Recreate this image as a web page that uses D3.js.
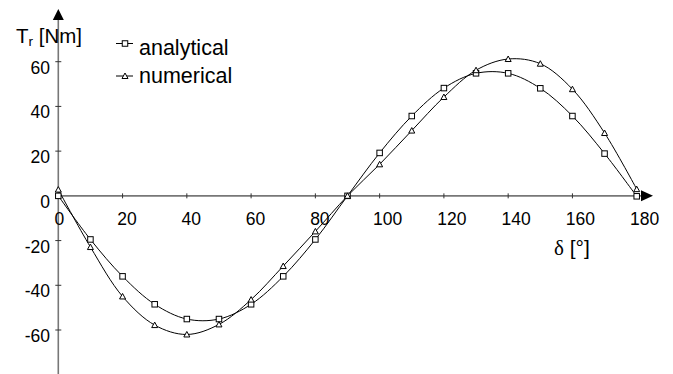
<!DOCTYPE html>
<html>
<head>
<meta charset="utf-8">
<script src="https://cdn.jsdelivr.net/npm/d3@7"></script>
<style>
  body { margin: 0; background: #fff; }
  svg { display: block; font-family: "Liberation Sans", Arial, sans-serif; }
</style>
</head>
<body>
<div id="chart"></div>
<script>
const delta = [0, 10, 20, 30, 40, 50, 60, 70, 80, 90, 100, 110, 120, 130, 140, 150, 160, 170, 180];
const analytical = [0, -19.5, -36, -48.5, -55.1, -55.1, -48.5, -36, -19.5, 0, 19.2, 35.7, 48.2, 54.8, 54.8, 48.1, 35.7, 18.9, -0.2];
const numerical = [2.8, -22.9, -45, -57.8, -62, -57.5, -46.4, -31.4, -15.9, 0, 14.1, 29.2, 44.2, 56.2, 61.2, 59.1, 47.7, 28.1, 3];
const xTicks = [0, 20, 40, 60, 80, 100, 120, 140, 160, 180];
const yTicks = [-60, -40, -20, 0, 20, 40, 60];

const width = 673, height = 374;

const svg = d3.select('#chart').append('svg')
  .attr('width', width)
  .attr('height', height);

const x = d3.scaleLinear().domain([0, 180]).range([58.3, 636.7]);
const y = d3.scaleLinear().domain([-60, 60]).range([330, 61.7]);

const axisColor = '#777';
const x0 = x(0), y0 = y(0);

// axes lines with arrows
svg.append('line')
  .attr('x1', x0).attr('x2', 642)
  .attr('y1', y0).attr('y2', y0)
  .attr('stroke', axisColor).attr('stroke-width', 1.6);
svg.append('path')
  .attr('d', `M641,${y0 - 5.5}L653,${y0}L641,${y0 + 5.5}Z`)
  .attr('fill', '#000');

svg.append('line')
  .attr('x1', x0).attr('x2', x0)
  .attr('y1', height).attr('y2', 19)
  .attr('stroke', axisColor).attr('stroke-width', 1.6);
svg.append('path')
  .attr('d', `M${x0 - 5.5},20L${x0},9L${x0 + 5.5},20Z`)
  .attr('fill', '#000');

// x ticks + labels
const xg = svg.append('g');
xg.selectAll('line')
  .data(xTicks.filter(d => d > 0 && d < 180))
  .enter().append('line')
  .attr('x1', d => x(d)).attr('x2', d => x(d))
  .attr('y1', y0 - 2.5).attr('y2', y0 + 2.5)
  .attr('stroke', '#333').attr('stroke-width', 1);
xg.selectAll('text')
  .data(xTicks)
  .enter().append('text')
  .attr('x', d => x(d) + 1 + (String(d).length - 1) * 3.5)
  .attr('y', 225)
  .attr('text-anchor', 'middle')
  .attr('font-size', 17.5)
  .text(d => d);

// y ticks + labels
const yg = svg.append('g');
yg.selectAll('line')
  .data(yTicks.filter(d => d !== 0))
  .enter().append('line')
  .attr('x1', x0 - 3).attr('x2', x0 + 3)
  .attr('y1', d => y(d)).attr('y2', d => y(d))
  .attr('stroke', '#333').attr('stroke-width', 1);
yg.selectAll('text')
  .data(yTicks)
  .enter().append('text')
  .attr('x', 50)
  .attr('y', d => y(d) + 12)
  .attr('text-anchor', 'end')
  .attr('font-size', 17.5)
  .text(d => d);

// axis titles
const ty = svg.append('text')
  .attr('x', 16).attr('y', 43)
  .attr('font-size', 20.5);
ty.append('tspan').text('T');
ty.append('tspan').attr('font-size', 13.5).attr('dy', 3).text('r');
ty.append('tspan').attr('dy', -3).text(' [Nm]');

const tx = svg.append('text')
  .attr('x', 554).attr('y', 255)
  .attr('font-size', 21);
tx.append('tspan').attr('font-family', '"Liberation Serif", serif').text('δ');
tx.append('tspan').text(' [°]');

// curves
const line = d3.line()
  .x((d, i) => x(delta[i]))
  .y(d => y(d))
  .curve(d3.curveCatmullRom.alpha(0.5));

svg.append('path')
  .datum(analytical)
  .attr('d', line)
  .attr('fill', 'none').attr('stroke', '#000').attr('stroke-width', 1);
svg.append('path')
  .datum(numerical)
  .attr('d', line)
  .attr('fill', 'none').attr('stroke', '#000').attr('stroke-width', 1);

const sq = 5.5;
const triPath = (cx, cy) => `M${cx - 3},${cy + 2.5}L${cx},${cy - 3}L${cx + 3},${cy + 2.5}Z`;

svg.append('g').selectAll('rect')
  .data(analytical)
  .enter().append('rect')
  .attr('x', (d, i) => x(delta[i]) - sq / 2)
  .attr('y', d => y(d) - sq / 2)
  .attr('width', sq).attr('height', sq)
  .attr('fill', '#fff').attr('stroke', '#000').attr('stroke-width', 1);

svg.append('g').selectAll('path')
  .data(numerical)
  .enter().append('path')
  .attr('d', (d, i) => triPath(x(delta[i]), y(d)))
  .attr('fill', '#fff').attr('stroke', '#000').attr('stroke-width', 1);

// legend
const legend = [
  { name: 'analytical', ly: 43.5, ty: 55, marker: 'square' },
  { name: 'numerical', ly: 76, ty: 83, marker: 'triangle' }
];
legend.forEach(l => {
  svg.append('line')
    .attr('x1', 116).attr('x2', 133)
    .attr('y1', l.ly).attr('y2', l.ly)
    .attr('stroke', '#000').attr('stroke-width', 1);
  if (l.marker === 'square') {
    svg.append('rect')
      .attr('x', 125 - sq / 2).attr('y', l.ly - sq / 2)
      .attr('width', sq).attr('height', sq)
      .attr('fill', '#fff').attr('stroke', '#000');
  } else {
    svg.append('path')
      .attr('d', triPath(125, l.ly))
      .attr('fill', '#fff').attr('stroke', '#000');
  }
  svg.append('text')
    .attr('x', 139).attr('y', l.ty)
    .attr('font-size', 21.5)
    .text(l.name);
});
</script>
</body>
</html>
